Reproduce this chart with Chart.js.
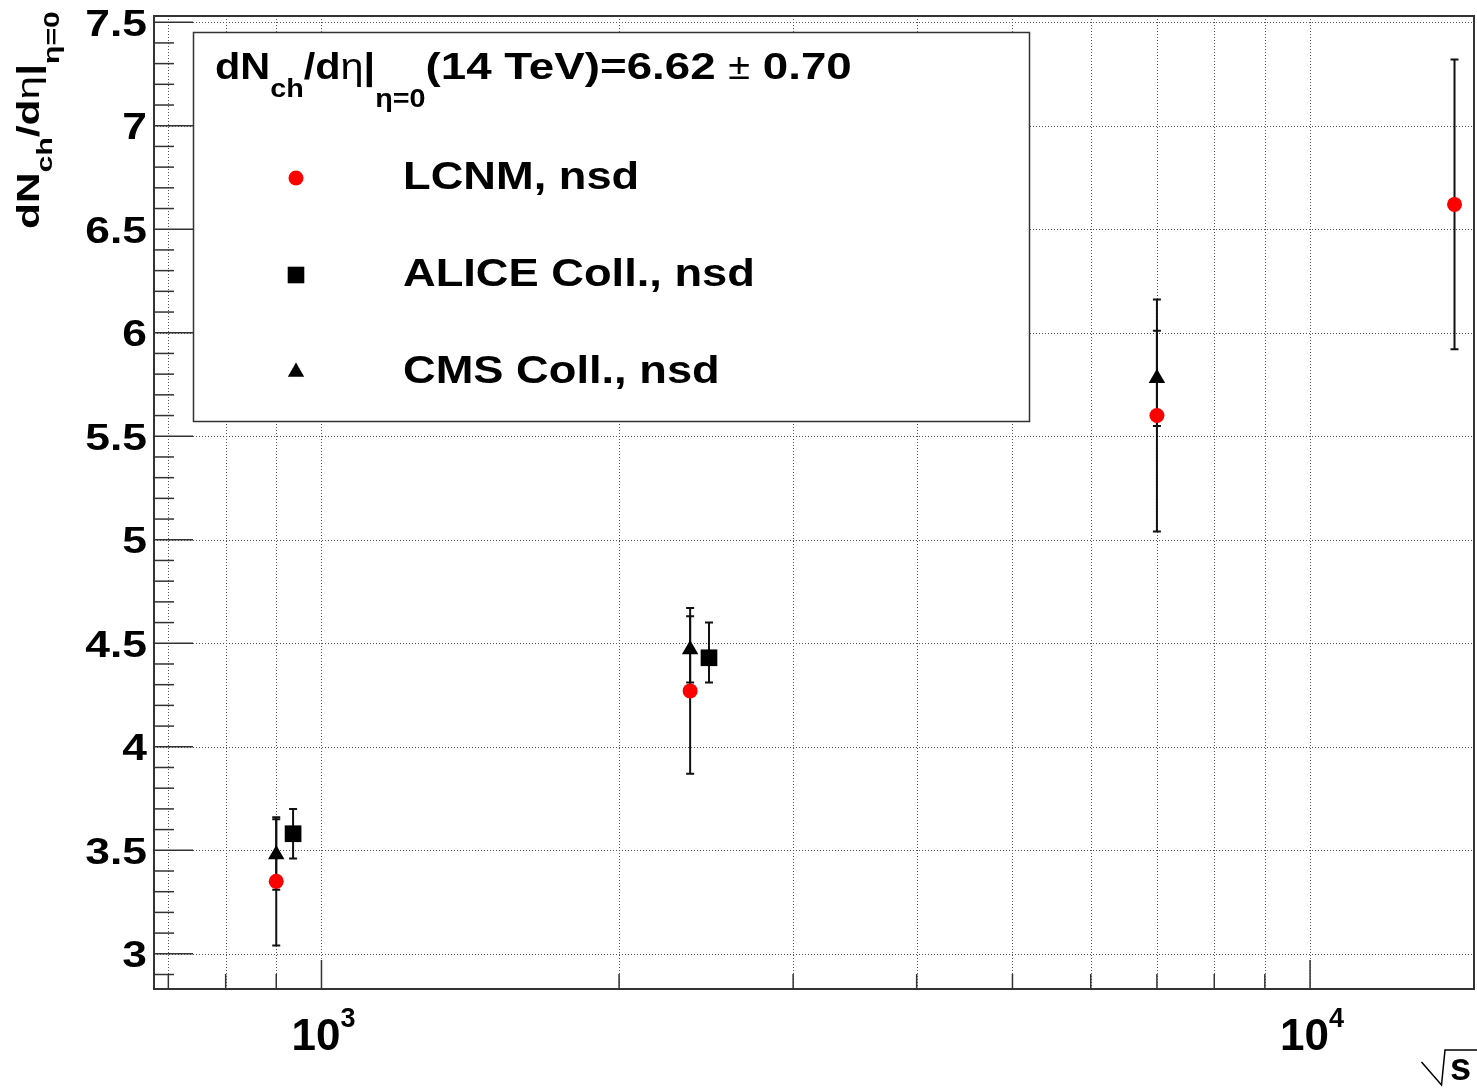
<!DOCTYPE html>
<html>
<head>
<meta charset="utf-8">
<script src="https://cdn.jsdelivr.net/npm/chart.js@4.4.1/dist/chart.umd.min.js"></script>
<style>
  html, body { margin: 0; padding: 0; background: #fff; overflow: hidden; }
  canvas { display: block; }
</style>
</head>
<body>
<canvas id="multChart" width="1477" height="1089"></canvas>
<script>
// charged multiplicity at mid-rapidity vs sqrt(s) [GeV]

const lcnmEnergy = [900, 2360, 7000, 14000];
const lcnmValue = [3.35, 4.27, 5.60, 6.62];
const lcnmError = [0.31, 0.40, 0.56, 0.70];

// ALICE points sit slightly to the right so they don't hide the others
const aliceEnergy = [936, 2466];
const aliceValue = [3.58, 4.43];
const aliceErrorUp = [0.12, 0.17];
const aliceErrorDown = [0.12, 0.12];

const cmsEnergy = [900, 2360, 7000];
const cmsValue = [3.48, 4.47, 5.78];
const cmsError = [0.17, 0.16, 0.23];

const yTickValues = [3, 3.5, 4, 4.5, 5, 5.5, 6, 6.5, 7, 7.5];
const yTickLabels = ['3', '3.5', '4', '4.5', '5', '5.5', '6', '6.5', '7', '7.5'];
const xGridValues = [700, 800, 900, 1000, 2000, 3000, 4000, 5000, 6000, 7000, 8000, 9000, 10000];
const xLabelValues = [1000, 10000];
const xLabelExponents = ['3', '4'];
const legendLabels = ['LCNM, nsd', 'ALICE Coll., nsd', 'CMS Coll., nsd'];

const FONT = '"Liberation Sans", Arial, Helvetica, sans-serif';

function points(xs, ys, up, down)
{
  return xs.map((x, i) => ({ x: x, y: ys[i], up: up[i], down: down[i] }));
}

// text drawn run by run, each run stretched horizontally by its own sx
function drawRuns(ctx, runs, x, y, sx)
{
  let cx = x;
  runs.forEach(r => {
    const k = r.sx || sx;
    ctx.font = (r.weight || 'bold') + ' ' + r.size + 'px ' + FONT;
    ctx.save();
    ctx.translate(cx, y + (r.dy || 0));
    ctx.scale(k, 1);
    ctx.fillText(r.t, 0, 0);
    ctx.restore();
    cx += ctx.measureText(r.t).width * k;
  });
  return cx - x;
}

function drawMarker(ctx, style, x, y)
{
  ctx.fillStyle = style === 'circle' ? '#ff0000' : '#000';
  ctx.beginPath();
  if (style === 'circle') {
    ctx.arc(x, y, 7.5, 0, Math.PI * 2);
  } else if (style === 'rect') {
    ctx.rect(x - 8.3, y - 8.3, 16.6, 16.6);
  } else {
    ctx.moveTo(x, y - 9.5);
    ctx.lineTo(x + 8.2, y + 4.75);
    ctx.lineTo(x - 8.2, y + 4.75);
    ctx.closePath();
  }
  ctx.fill();
}

const rootStyle = {
  id: 'rootStyle',
  beforeDraw(chart)
  {
    const ctx = chart.ctx;
    ctx.save();
    ctx.fillStyle = '#fff';
    ctx.fillRect(0, 0, chart.width, chart.height);
    ctx.restore();
  },
  beforeDatasetsDraw(chart)
  {
    const ctx = chart.ctx;
    const a = chart.chartArea;
    const xs = chart.scales.x;
    const ys = chart.scales.y;

    // dotted grid
    ctx.save();
    ctx.strokeStyle = '#555';
    ctx.lineWidth = 1;
    ctx.setLineDash([1, 2]);
    xGridValues.forEach(v => {
      const px = Math.round(xs.getPixelForValue(v)) + 0.5;
      ctx.beginPath();
      ctx.moveTo(px, a.top);
      ctx.lineTo(px, a.bottom);
      ctx.stroke();
    });
    yTickValues.forEach(v => {
      const py = Math.round(ys.getPixelForValue(v)) + 0.5;
      ctx.beginPath();
      ctx.moveTo(a.left, py);
      ctx.lineTo(a.right, py);
      ctx.stroke();
    });
    ctx.restore();

    // error bars
    ctx.save();
    ctx.strokeStyle = '#111';
    ctx.lineWidth = 2;
    chart.data.datasets.forEach((ds, di) => {
      const meta = chart.getDatasetMeta(di);
      ds.data.forEach((p, i) => {
        const px = meta.data[i].x;
        const top = ys.getPixelForValue(p.y + p.up);
        const bot = ys.getPixelForValue(p.y - p.down);
        ctx.beginPath();
        ctx.moveTo(px, top);
        ctx.lineTo(px, bot);
        ctx.moveTo(px - 4, top);
        ctx.lineTo(px + 4, top);
        ctx.moveTo(px - 4, bot);
        ctx.lineTo(px + 4, bot);
        ctx.stroke();
      });
    });
    ctx.restore();
  },
  afterDatasetsDraw(chart)
  {
    const ctx = chart.ctx;
    const a = chart.chartArea;
    const xs = chart.scales.x;
    const ys = chart.scales.y;

    ctx.save();
    // frame
    ctx.strokeStyle = '#333';
    ctx.lineWidth = 2;
    ctx.strokeRect(a.left, a.top, a.right - a.left, a.bottom - a.top);

    // ticks on the left axis
    ctx.lineWidth = 1.5;
    for (let k = Math.ceil(ys.min * 10); k <= Math.floor(ys.max * 10); k++) {
      const py = ys.getPixelForValue(k / 10);
      const len = k % 5 === 0 ? 39 : 20;
      ctx.beginPath();
      ctx.moveTo(a.left, py);
      ctx.lineTo(a.left + len, py);
      ctx.stroke();
    }
    // ticks on the bottom axis
    xGridValues.forEach(v => {
      const px = xs.getPixelForValue(v);
      const len = xLabelValues.includes(v) ? 29 : 15;
      ctx.beginPath();
      ctx.moveTo(px, a.bottom);
      ctx.lineTo(px, a.bottom - len);
      ctx.stroke();
    });

    // tick labels
    ctx.fillStyle = '#000';
    ctx.textAlign = 'right';
    ctx.textBaseline = 'alphabetic';
    yTickValues.forEach((v, i) => {
      const py = ys.getPixelForValue(v);
      ctx.font = 'bold 37px ' + FONT;
      ctx.save();
      ctx.translate(147, py + 13.5);
      ctx.scale(1.2, 1);
      ctx.fillText(yTickLabels[i], 0, 0);
      ctx.restore();
    });
    ctx.textAlign = 'left';
    xLabelValues.forEach((v, i) => {
      const px = xs.getPixelForValue(v);
      // measure first so the label is centred on its tick
      ctx.font = 'bold 44px ' + FONT;
      let w = ctx.measureText('10').width;
      ctx.font = 'bold 27px ' + FONT;
      w += ctx.measureText(xLabelExponents[i]).width;
      drawRuns(ctx, [
        { t: '10', size: 44 },
        { t: xLabelExponents[i], size: 27, dy: -23 }
      ], px - w / 2 + 2, 1050, 1);
    });

    // axis titles
    ctx.save();
    ctx.translate(39, 229);
    ctx.rotate(-Math.PI / 2);
    drawRuns(ctx, [
      { t: 'dN', size: 31 },
      { t: 'ch', size: 22, dy: 13 },
      { t: '/d', size: 31 },
      { t: 'η', size: 31, weight: 'normal' },
      { t: '|', size: 31 },
      { t: 'η=0', size: 22, dy: 20 }
    ], 0, 0, 1.37);
    ctx.restore();

    ctx.strokeStyle = '#000';
    ctx.lineWidth = 1.5;
    ctx.beginPath();
    ctx.moveTo(1421.5, 1062);
    ctx.lineTo(1441.5, 1085);
    ctx.lineTo(1445, 1050);
    ctx.lineTo(1477, 1050);
    ctx.stroke();
    drawRuns(ctx, [{ t: 's', size: 38 }], 1450, 1080, 1);

    // legend
    ctx.fillStyle = '#fff';
    ctx.fillRect(193, 32, 837, 390);
    ctx.strokeStyle = '#333';
    ctx.lineWidth = 1.5;
    ctx.strokeRect(193.5, 32.5, 836, 389);
    ctx.fillStyle = '#000';
    drawRuns(ctx, [
      { t: 'dN', size: 36 },
      { t: 'ch', size: 25, dy: 18 },
      { t: '/d', size: 36 },
      { t: 'η', size: 36, weight: 'normal' },
      { t: '|', size: 36 },
      { t: 'η=0', size: 25, dy: 28 },
      { t: '(14 TeV)=6.62 ', size: 36, sx: 1.27 },
      { t: '±', size: 36, weight: 'normal', sx: 1.1 },
      { t: ' 0.70', size: 36, sx: 1.27 }
    ], 215, 79, 1.15);

    const styles = ['circle', 'rect', 'triangle'];
    legendLabels.forEach((lab, i) => {
      const cy = 178 + i * 97;
      drawMarker(ctx, styles[i], 296, cy);
      ctx.fillStyle = '#000';
      drawRuns(ctx, [{ t: lab, size: 39 }], 403, cy + 11, 1.16);
    });
    ctx.restore();
  }
};

new Chart(document.getElementById('multChart'), {
  type: 'scatter',
  data: {
    datasets: [
      {
        label: legendLabels[0],
        data: points(lcnmEnergy, lcnmValue, lcnmError, lcnmError),
        pointStyle: 'circle',
        pointRadius: 7.5,
        backgroundColor: '#ff0000',
        borderWidth: 0
      },
      {
        label: legendLabels[1],
        data: points(aliceEnergy, aliceValue, aliceErrorUp, aliceErrorDown),
        pointStyle: 'rect',
        pointRadius: 11.8,
        backgroundColor: '#000',
        borderWidth: 0
      },
      {
        label: legendLabels[2],
        data: points(cmsEnergy, cmsValue, cmsError, cmsError),
        pointStyle: 'triangle',
        pointRadius: 9.5,
        backgroundColor: '#000',
        borderWidth: 0
      }
    ]
  },
  options: {
    responsive: false,
    animation: false,
    events: [],
    layout: { autoPadding: false, padding: { top: 16, right: 3, left: 0, bottom: 0 } },
    plugins: {
      legend: { display: false },
      tooltip: { enabled: false }
    },
    scales: {
      x: {
        type: 'logarithmic',
        min: 677,
        max: 14650,
        bounds: 'data',
        ticks: { display: false },
        grid: { display: false },
        border: { display: false },
        afterFit: s => { s.height = 100; }
      },
      y: {
        type: 'linear',
        min: 2.83,
        max: 7.53,
        ticks: { display: false },
        grid: { display: false },
        border: { display: false },
        afterFit: s => { s.width = 154; }
      }
    }
  },
  plugins: [rootStyle]
});
</script>
</body>
</html>
